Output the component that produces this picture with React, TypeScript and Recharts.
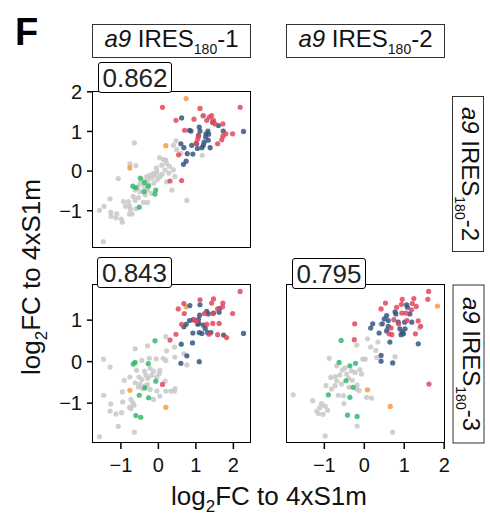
import React from 'react';
import { ScatterChart, Scatter, XAxis, YAxis } from 'recharts';

type P = [number, number];

// ---------- DATA ----------
const colLabels = ['1', '2'];
const rowLabels = ['2', '3'];
const corrLabels = ['0.862', '0.843', '0.795'];
const xTicks = [-1, 0, 1, 2];
const yTicksTop = [-1, 0, 1, 2];
const yTicksBottom = [-1, 0, 1];

// panel: a9 IRES180-1 (x) vs a9 IRES180-2 (y)
const p1Gray: P[] = [[-0.64,0.71],[0.47,0.76],[0.49,0.54],[0.40,0.65],[1.18,1.38],[1.17,0.40],[0.03,0.34],[0.13,0.29],[0.20,0.28],[0.22,0.19],[-0.76,0.18],[-0.60,0.14],[-1.07,-0.19],[-0.04,-0.02],[-0.13,-0.06],[-0.22,-0.10],[-0.09,-0.10],[0.04,-0.14],[-0.03,-0.21],[-0.29,-0.24],[-0.18,-0.18],[-0.31,-0.14],[-0.42,-0.23],[-0.49,-0.31],[-0.38,-0.39],[-0.29,-0.48],[-0.18,-0.56],[-0.49,-0.52],[-0.62,-0.48],[-0.67,-0.64],[-0.53,-0.67],[-0.62,-0.74],[-0.40,-0.79],[-0.29,-0.79],[-0.93,-0.77],[-1.29,-0.70],[-1.45,-0.89],[-1.57,-0.99],[-1.27,-1.04],[-1.26,-1.14],[-1.11,-1.08],[-1.13,-1.18],[-0.99,-1.21],[-0.96,-1.29],[-0.77,-0.88],[-0.75,-0.96],[-0.70,-1.08],[-0.77,-1.08],[-1.47,-1.78],[0.76,-0.74],[0.36,-0.48],[0.22,-0.27],[0.44,-0.14],[0.40,0.03],[0.18,0.03],[0.09,0.15],[-0.88,-0.89],[-0.80,-0.77],[0.28,-0.05],[-0.12,-0.30],[-0.25,-0.35],[-0.55,-0.40],[0.10,-0.08],[-0.05,0.08],[0.30,0.12],[-0.35,-0.60],[-0.60,-0.95],[0.60,0.45]];
const p1Green: P[] = [[-0.48,-0.18],[-0.68,-0.38],[-0.60,-0.42],[-0.37,-0.29],[-0.27,-0.38],[-0.07,-0.48],[-0.09,-0.58],[-0.51,-0.91],[-0.38,-0.52]];
const p1Orange: P[] = [[0.74,1.83],[0.20,0.64],[-0.76,0.08]];
const p1Blue: P[] = [[0.62,1.34],[0.83,1.03],[0.87,1.01],[1.09,1.11],[1.11,1.01],[1.07,0.90],[1.27,0.94],[1.32,1.01],[1.34,0.93],[1.26,0.86],[1.45,1.23],[1.60,1.15],[1.73,1.01],[2.27,1.00],[0.60,0.69],[0.68,0.59],[0.89,0.65],[1.02,0.69],[1.20,0.65],[1.22,0.73],[1.33,0.78],[1.04,0.57],[0.77,0.44],[0.92,0.43],[0.74,0.25],[0.67,0.17],[1.38,0.59],[1.16,0.59]];
const p1Red: P[] = [[0.11,1.61],[0.47,1.28],[1.11,1.58],[0.95,1.31],[0.70,1.03],[2.18,1.61],[1.36,1.36],[1.42,1.40],[1.47,1.28],[1.51,1.19],[1.72,1.19],[1.80,0.94],[1.98,0.94],[1.72,0.88],[1.69,0.79],[1.58,0.69],[1.01,0.71],[1.05,0.81],[0.54,0.41],[0.62,-0.24],[0.31,-0.25],[1.29,1.28],[1.45,1.23],[1.20,1.40],[1.07,0.88]];

// panel: a9 IRES180-1 (x) vs a9 IRES180-3 (y)
const p3Gray: P[] = [[-1.46,0.06],[-1.29,-0.13],[-0.62,0.31],[-0.29,0.38],[0.20,0.60],[0.22,0.26],[0.43,0.35],[0.44,0.11],[0.68,0.19],[0.76,-0.08],[-0.06,0.07],[0.13,0.08],[0.20,0.03],[-0.24,0.08],[-0.44,0.03],[-0.58,-0.21],[-0.37,-0.23],[-0.22,-0.16],[-0.13,-0.23],[0.04,-0.21],[0.02,-0.29],[-0.04,-0.37],[-0.18,-0.33],[-0.28,-0.40],[-0.33,-0.33],[-0.44,-0.43],[-0.52,-0.37],[-0.76,-0.37],[-0.91,-0.45],[-0.62,-0.51],[-0.49,-0.55],[-0.42,-0.65],[-0.53,-0.61],[-0.36,-0.59],[-0.29,-0.55],[-0.22,-0.67],[-0.04,-0.71],[0.18,-0.47],[0.20,-0.71],[0.33,-0.71],[0.44,-0.65],[0.43,-0.71],[-0.96,-0.73],[-1.46,-0.81],[-0.95,-0.97],[-0.73,-0.91],[-0.68,-0.99],[-0.73,-1.13],[-0.77,-1.10],[-0.65,-1.05],[-1.27,-1.02],[-1.29,-1.19],[-1.13,-1.26],[-0.98,-1.23],[-1.07,-1.56],[-0.64,-1.70],[-1.57,-1.81],[-0.13,-0.91],[0.04,-0.83]];
const p3Green: P[] = [[-0.09,0.50],[-0.62,-0.02],[-0.67,-0.06],[-0.27,-0.05],[-0.07,-0.47],[-0.36,-0.63],[-0.51,-0.81],[-0.26,-0.87],[-0.60,-1.30],[-0.47,-1.34]];
const p3Orange: P[] = [[0.74,1.32],[-0.76,-0.69],[0.20,-1.10]];
const p3Blue: P[] = [[0.84,1.35],[1.11,1.37],[1.29,1.21],[1.33,1.15],[1.10,1.12],[1.07,1.02],[0.93,1.01],[0.83,0.99],[0.74,0.90],[0.68,0.84],[1.05,0.90],[1.20,0.88],[1.08,0.92],[1.47,1.17],[1.62,1.19],[1.63,1.28],[1.25,0.80],[1.31,0.70],[1.40,0.70],[1.16,0.68],[0.92,0.69],[1.09,0.70],[1.74,0.64],[2.27,0.68],[0.61,0.42],[0.91,0.45],[0.76,0.14],[0.60,-0.04],[1.09,0.00]];
const p3Red: P[] = [[2.18,1.69],[1.11,1.49],[1.47,1.51],[1.42,1.41],[1.72,1.41],[1.71,1.32],[1.58,1.27],[1.98,1.16],[0.53,1.27],[0.68,1.40],[0.69,1.16],[0.62,0.90],[0.96,1.00],[1.02,0.97],[1.23,1.16],[1.29,0.90],[1.45,0.92],[1.62,0.92],[1.35,0.66],[1.58,0.65],[1.82,0.58],[0.47,0.66],[0.31,0.52],[0.11,-0.55],[1.45,1.16]];

// panel: a9 IRES180-2 (x) vs a9 IRES180-3 (y)
const p4Gray: P[] = [[-1.78,-0.80],[-1.29,-0.94],[-0.98,-1.79],[-0.18,-1.55],[0.71,-1.70],[0.41,0.90],[0.56,0.77],[0.08,0.55],[-0.19,0.40],[0.16,0.35],[0.34,0.47],[0.29,0.27],[0.31,0.10],[0.77,0.12],[0.02,0.06],[-0.04,0.06],[-0.88,0.08],[-0.69,-0.10],[-0.48,-0.15],[-0.32,-0.22],[-0.11,-0.19],[-0.07,-0.30],[-0.23,-0.26],[-0.44,-0.30],[-0.61,-0.32],[-0.73,-0.36],[-0.84,-0.38],[-0.69,-0.46],[-0.57,-0.54],[-0.73,-0.58],[-0.96,-0.58],[-0.82,-0.66],[-0.65,-0.81],[-0.52,-0.82],[-0.38,-0.62],[-0.18,-0.56],[-0.19,-0.66],[-0.13,-0.70],[0.06,-0.86],[0.18,-0.88],[-0.51,-1.01],[-1.07,-1.01],[-0.98,-1.07],[-1.11,-1.11],[-1.19,-1.19],[-1.15,-1.25],[-1.03,-1.27],[-0.92,-1.17],[1.38,0.81],[-0.40,-0.40],[-0.30,-0.45],[-0.55,-0.20]];
const p4Green: P[] = [[-0.58,0.51],[-0.63,-0.02],[-0.36,-0.10],[-0.22,-0.04],[-0.46,-0.46],[-0.28,-0.62],[-0.90,-0.80],[-0.36,-0.86],[-0.42,-1.29],[-0.18,-1.32]];
const p4Orange: P[] = [[1.83,1.34],[0.08,-0.68],[0.65,-1.08]];
const p4Blue: P[] = [[1.06,1.37],[1.08,1.31],[0.77,1.20],[0.79,1.15],[0.56,1.11],[0.50,1.03],[0.60,0.99],[0.45,0.91],[0.21,0.91],[0.16,0.81],[0.60,0.85],[0.56,0.74],[0.37,0.69],[0.64,0.47],[0.85,0.95],[1.01,0.95],[1.19,0.95],[1.14,1.15],[0.89,0.79],[0.95,0.71],[0.98,0.67],[0.92,0.65],[1.02,0.79],[1.35,0.43],[0.42,0.15],[0.42,0.01],[0.71,-0.03]];
const p4Red: P[] = [[1.61,1.69],[1.59,1.50],[1.24,1.52],[0.95,1.50],[0.53,1.41],[0.42,1.27],[0.81,1.31],[0.93,1.38],[1.20,1.40],[1.30,1.33],[1.18,1.25],[0.94,1.17],[1.04,1.17],[0.74,1.01],[1.07,0.99],[0.86,0.91],[1.35,0.98],[1.41,0.85],[0.67,0.81],[0.62,0.67],[0.69,0.65],[1.28,0.67],[-0.24,0.91],[-0.25,0.53],[1.62,-0.54]];

// ---------- STYLE ----------
const FONT = '"Liberation Sans", Arial, Helvetica, sans-serif';
const C = { gray: '#c8c8c8', green: '#34b96c', orange: '#f59b3e', blue: '#35567f', red: '#e2475c' };
const xDom1: [number, number] = [-1.77, 2.47];
const xDom2: [number, number] = [-1.96, 2.02];
const yDomTop: [number, number] = [-1.94, 2.02];
const yDomBot: [number, number] = [-1.96, 1.87];

const toObj = (a: P[]) => a.map(([x, y]) => ({ x, y }));
const fmt = (v: number) => (v < 0 ? '\u2212' + Math.abs(v) : String(v));
const dot = (fill: string) => (props: any) =>
  props.cx == null ? <g /> : <circle cx={props.cx} cy={props.cy} r={2.6} fill={fill} fillOpacity={0.85} />;

const tickStyle = { fill: '#111', fontSize: 20, fontFamily: FONT };

type Groups = { gray: P[]; green: P[]; orange: P[]; blue: P[]; red: P[] };

const MT = 14; // chart top margin so top tick label is not clipped
const MR = 16; // chart right margin so last x tick label is not clipped

function Panel(props: {
  left: number; top: number; w: number; h: number;
  xDom: [number, number]; yDom: [number, number];
  showX: boolean; showY: boolean; yTicks: number[]; g: Groups;
}) {
  const { left, top, w, h, xDom, yDom, showX, showY, yTicks, g } = props;
  const yW = showY ? 50 : 0;
  const xH = showX ? 40 : 0;
  return (
    <>
      <div style={{ position: 'absolute', left: left - yW, top: top - MT }}>
        <ScatterChart width={w + yW + MR} height={h + xH + MT} margin={{ top: MT, right: MR, bottom: 0, left: 0 }}>
          <XAxis type="number" dataKey="x" domain={xDom} ticks={xTicks} allowDataOverflow hide={!showX}
            height={xH} tickFormatter={fmt} axisLine={false} tickSize={6} tickMargin={9}
            tickLine={{ stroke: '#000', strokeWidth: 1.5 }} tick={tickStyle} interval={0} />
          <YAxis type="number" dataKey="y" domain={yDom} ticks={yTicks} allowDataOverflow hide={!showY}
            width={yW} tickFormatter={fmt} axisLine={false} tickSize={5} tickMargin={5}
            tickLine={{ stroke: '#000', strokeWidth: 1.5 }} tick={tickStyle} interval={0} />
          <Scatter data={toObj(g.gray)} shape={dot(C.gray)} isAnimationActive={false} />
          <Scatter data={toObj(g.green)} shape={dot(C.green)} isAnimationActive={false} />
          <Scatter data={toObj(g.orange)} shape={dot(C.orange)} isAnimationActive={false} />
          <Scatter data={toObj(g.blue)} shape={dot(C.blue)} isAnimationActive={false} />
          <Scatter data={toObj(g.red)} shape={dot(C.red)} isAnimationActive={false} />
        </ScatterChart>
      </div>
      <div style={{ position: 'absolute', left, top, width: w, height: h, border: '1.5px solid #000', boxSizing: 'border-box', pointerEvents: 'none' }} />
    </>
  );
}

function StripText({ n }: { n: string }) {
  return (
    <span style={{ whiteSpace: 'nowrap' }}>
      <i>a9</i> IRES<span style={{ fontSize: 14, verticalAlign: -7 }}>180</span>-{n}
    </span>
  );
}

const stripBox: React.CSSProperties = {
  position: 'absolute', border: '1.3px solid #333', boxSizing: 'border-box', background: '#fff',
  display: 'flex', alignItems: 'center', justifyContent: 'center', fontSize: 24, lineHeight: 1,
  fontFamily: FONT, color: '#111',
};

const corrBox: React.CSSProperties = {
  position: 'absolute', border: '1.5px solid #000', borderRadius: 3, boxSizing: 'border-box', background: '#fff',
  display: 'flex', alignItems: 'center', justifyContent: 'center', fontSize: 26, lineHeight: 1,
  fontFamily: FONT, color: '#222',
};

export default function App() {
  return (
    <div style={{ position: 'absolute', left: 0, top: 0, width: 490, height: 519, background: '#fff', overflow: 'hidden', fontFamily: FONT }}>
      <div style={{ position: 'absolute', left: 15, top: 13, fontSize: 38, fontWeight: 'bold', lineHeight: 1, color: '#000' }}>F</div>

      <Panel left={92} top={91} w={159} h={157} xDom={xDom1} yDom={yDomTop} showX={false} showY={true} yTicks={yTicksTop}
        g={{ gray: p1Gray, green: p1Green, orange: p1Orange, blue: p1Blue, red: p1Red }} />
      <Panel left={92} top={284} w={159} h={159} xDom={xDom1} yDom={yDomBot} showX={true} showY={true} yTicks={yTicksBottom}
        g={{ gray: p3Gray, green: p3Green, orange: p3Orange, blue: p3Blue, red: p3Red }} />
      <Panel left={286} top={284} w={159} h={159} xDom={xDom2} yDom={yDomBot} showX={true} showY={false} yTicks={yTicksBottom}
        g={{ gray: p4Gray, green: p4Green, orange: p4Orange, blue: p4Blue, red: p4Red }} />

      {/* column strips */}
      <div style={{ ...stripBox, left: 92, top: 24, width: 159, height: 34 }}><StripText n={colLabels[0]} /></div>
      <div style={{ ...stripBox, left: 286, top: 24, width: 159, height: 34 }}><StripText n={colLabels[1]} /></div>

      {/* row strips (rotated) */}
      <div style={{ ...stripBox, left: 468 - 78, top: 174 - 16, width: 156, height: 32, transform: 'rotate(90deg)' }}><StripText n={rowLabels[0]} /></div>
      <div style={{ ...stripBox, left: 468 - 79.5, top: 363.5 - 16, width: 159, height: 32, transform: 'rotate(90deg)' }}><StripText n={rowLabels[1]} /></div>

      {/* correlation labels */}
      <div style={{ ...corrBox, left: 98, top: 62, width: 74, height: 31 }}>{corrLabels[0]}</div>
      <div style={{ ...corrBox, left: 97, top: 257, width: 75, height: 31 }}>{corrLabels[1]}</div>
      <div style={{ ...corrBox, left: 292, top: 258, width: 74, height: 31 }}>{corrLabels[2]}</div>

      {/* axis titles */}
      <div style={{ position: 'absolute', left: 269 - 150, top: 482.6, width: 300, textAlign: 'center', fontSize: 26, lineHeight: 1, color: '#111', whiteSpace: 'nowrap' }}>
        log<span style={{ fontSize: 17, verticalAlign: -7 }}>2</span>FC to 4xS1m
      </div>
      <div style={{ position: 'absolute', left: 31 - 150, top: 277 - 15, width: 300, height: 30, lineHeight: '30px', textAlign: 'center', fontSize: 26, color: '#111', whiteSpace: 'nowrap', transform: 'rotate(-90deg)' }}>
        log<span style={{ fontSize: 17, verticalAlign: -7 }}>2</span>FC to 4xS1m
      </div>
    </div>
  );
}
